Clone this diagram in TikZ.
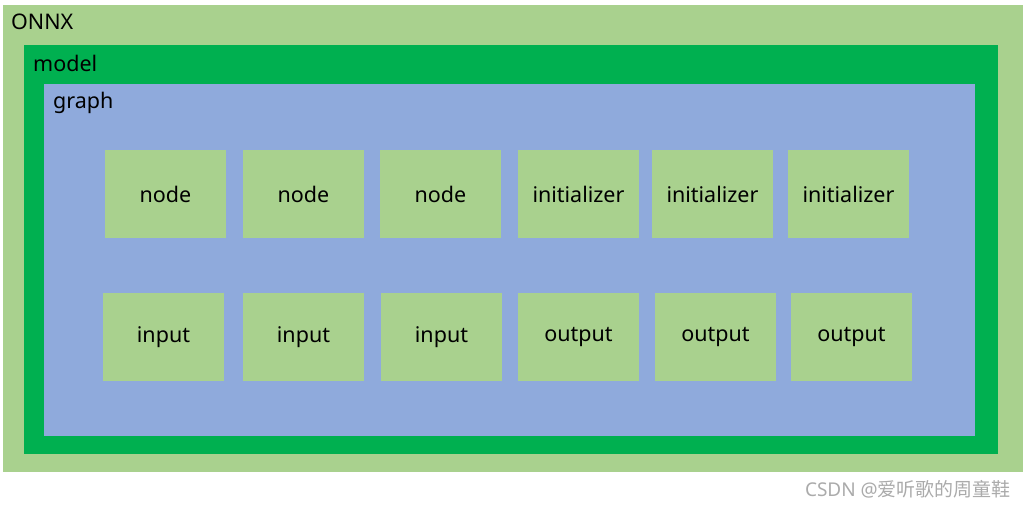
\documentclass[tikz,border=0pt]{standalone}
\usepackage{fontspec}
\setmainfont{Noto Sans}
\newfontfamily\cjk{Noto Sans CJK SC}
\definecolor{lgreen}{HTML}{A9D18E}
\definecolor{dgreen}{HTML}{00B050}
\definecolor{lblue}{HTML}{8FAADC}
\definecolor{wm}{HTML}{ABABAB}
\begin{document}
\begin{tikzpicture}[x=1pt,y=-1pt,
  box/.style={fill=lgreen,draw=none,minimum width=121pt,minimum height=88pt,inner sep=0pt,font=\fontsize{21.5}{24}\selectfont},
  lbl/.style={anchor=west,inner sep=0pt,font=\fontsize{21.5}{24}\selectfont}]
\useasboundingbox (0,0) rectangle (1029,508);
\fill[white] (0,0) rectangle (1029,508);
\fill[lgreen] (3,5) rectangle (1023,472);
\fill[dgreen] (24,45) rectangle (998,454);
\fill[lblue] (44,84) rectangle (975,436);
\node[lbl] (onnx) at (11,22) {ONNX};
\node[lbl] (model) at (33,63) {model};
\node[lbl] (graph) at (53,103) {graph};
\node[box] (n1) at (165.5,194) {node};
\node[box] (n2) at (303.5,194) {node};
\node[box] (n3) at (440.5,194) {node};
\node[box] (i1) at (578.5,194) {initializer};
\node[box] (i2) at (712.5,194) {initializer};
\node[box] (i3) at (848.5,194) {initializer};
\node[box] (in1) at (163.5,337) {input};
\node[box] (in2) at (303.5,337) {input};
\node[box] (in3) at (441.5,337) {input};
\node[box] (o1) at (578.5,336.5) {output};
\node[box] (o2) at (715.5,336.5) {output};
\node[box] (o3) at (851.5,336.5) {output};
\node[anchor=east,inner sep=0pt,text=wm,font=\fontsize{19}{22}\selectfont] (wmk) at (1011,489) {CSDN @{\cjk 爱听歌的周童鞋}};
\end{tikzpicture}
\end{document}
